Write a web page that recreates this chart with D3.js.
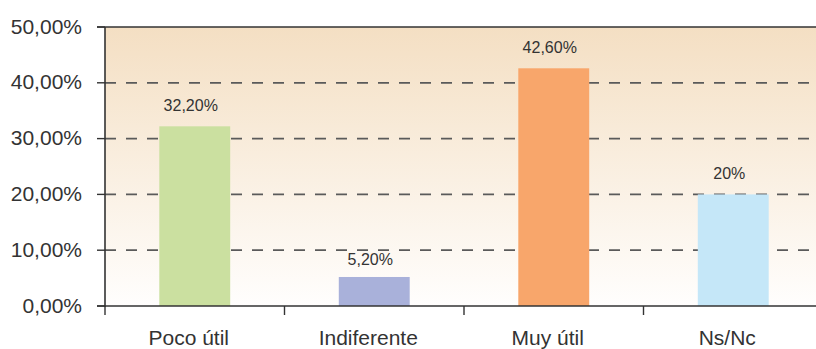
<!DOCTYPE html>
<html><head><meta charset="utf-8">
<script src="https://cdn.jsdelivr.net/npm/d3@7"></script>
<style>body{margin:0;background:#fff}svg{display:block}text{font-family:"Liberation Sans",Arial,sans-serif;fill:#333}</style>
</head><body>
<script>
const categories = ["Poco útil", "Indiferente", "Muy útil", "Ns/Nc"];
const values = [32.2, 5.2, 42.6, 20];
const valueLabels = ["32,20%", "5,20%", "42,60%", "20%"];
const colors = ["#cbe0a0", "#a9b1da", "#f8a66b", "#c5e7f8"];
const yTicks = [0, 10, 20, 30, 40, 50];
const yTickLabels = ["0,00%", "10,00%", "20,00%", "30,00%", "40,00%", "50,00%"];

(function () {
const W = 816, H = 349;
const svg = d3.select("body").append("svg").attr("width", W).attr("height", H);
const pL = 105, pT = 27, pB = 306, pR = 823;
const x = d3.scaleBand().domain(categories).range([pL, pR]).padding(0);
const y = d3.scaleLinear().domain([0, 50]).range([pB, pT]);

const defs = svg.append("defs");
const g = defs.append("linearGradient").attr("id", "bg").attr("x1", 0).attr("y1", 0).attr("x2", 0).attr("y2", 1);
g.append("stop").attr("offset", "0%").attr("stop-color", "#f4dfc3");
g.append("stop").attr("offset", "100%").attr("stop-color", "#fffefd");
svg.append("rect").attr("x", pL).attr("y", pT).attr("width", W - pL).attr("height", pB - pT).attr("fill", "url(#bg)");

const grid = yTicks.filter(t => t > 0 && t < 50);
svg.selectAll(".grid").data(grid).enter().append("line")
  .attr("x1", pL).attr("x2", W).attr("y1", d => y(d)).attr("y2", d => y(d))
  .attr("stroke", "#5a5a5a").attr("stroke-width", 1.8).attr("stroke-dasharray", "11,10");

const bw = x.bandwidth() * 0.395;
svg.selectAll(".bar").data(values).enter().append("rect")
  .attr("x", (d, i) => x(categories[i]) + x.bandwidth() / 2 - bw / 2)
  .attr("y", d => y(d)).attr("width", bw).attr("height", d => y(0) - y(d))
  .attr("fill", (d, i) => colors[i]);

// label baseline: 15px above bar, moved down below a gridline if it would cross it
function labelY(d) {
  let b = y(d) - 15;
  const topEdge = b - 12;
  grid.forEach(t => { const gy = y(t); if (gy > topEdge - 1 && gy < b + 1) b = gy + 15; });
  return b;
}
svg.selectAll(".vl").data(values).enter().append("text")
  .attr("x", (d, i) => x(categories[i]) + x.bandwidth() / 2 - 4)
  .attr("y", labelY).attr("text-anchor", "middle").attr("font-size", 16)
  .text((d, i) => valueLabels[i]);

const ax = "#333";
svg.append("line").attr("x1", pL).attr("x2", pL).attr("y1", pT).attr("y2", pB + 1).attr("stroke", ax).attr("stroke-width", 1.6);
svg.append("line").attr("x1", pL - 8).attr("x2", W).attr("y1", pT).attr("y2", pT).attr("stroke", ax).attr("stroke-width", 1.6);
svg.append("line").attr("x1", pL - 8).attr("x2", W).attr("y1", pB).attr("y2", pB).attr("stroke", ax).attr("stroke-width", 1.6);

svg.selectAll(".yt").data(yTicks).enter().append("line")
  .attr("x1", pL - 8).attr("x2", pL).attr("y1", d => y(d)).attr("y2", d => y(d))
  .attr("stroke", ax).attr("stroke-width", 1.4);
svg.selectAll(".yl").data(yTicks).enter().append("text")
  .attr("x", 82).attr("y", d => y(d) + 6.5).attr("text-anchor", "end").attr("font-size", 21)
  .text((d, i) => yTickLabels[i]);

svg.selectAll(".xt").data(categories).enter().append("line")
  .attr("x1", d => x(d)).attr("x2", d => x(d)).attr("y1", pB).attr("y2", pB + 9)
  .attr("stroke", ax).attr("stroke-width", 1.4);
svg.selectAll(".xl").data(categories).enter().append("text")
  .attr("x", d => x(d) + x.bandwidth() / 2 - 6).attr("y", 345).attr("text-anchor", "middle").attr("font-size", 21)
  .text(d => d);
})();
</script>
</body></html>
